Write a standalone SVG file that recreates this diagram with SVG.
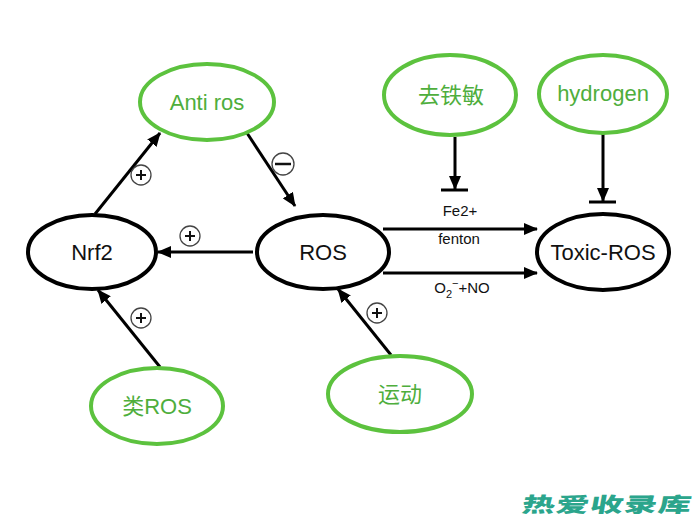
<svg xmlns="http://www.w3.org/2000/svg" width="700" height="525" viewBox="0 0 700 525">
<style>
.gE{fill:none;stroke:#5cc23e;stroke-width:4}
.bE{fill:none;stroke:#000;stroke-width:4}
.gT{fill:#4eae3c;font-family:"Liberation Sans","Noto Sans CJK SC",sans-serif;font-size:22px;text-anchor:middle}
.bT{fill:#111;font-family:"Liberation Sans",sans-serif;font-size:22px;text-anchor:middle}
.ln{stroke:#000;stroke-width:3;fill:none}
.bar{stroke:#000;stroke-width:3}
.sg{fill:#fff;stroke:#444;stroke-width:1.3}
.sgl{stroke:#111;stroke-width:2}
.lb{fill:#111;font-family:"Liberation Sans",sans-serif;font-size:15px;text-anchor:middle}
</style>
<defs>
<marker id="ah" markerWidth="14" markerHeight="12" refX="13" refY="6" orient="auto" markerUnits="userSpaceOnUse">
<path d="M0,0 L14,6 L0,12 Z" fill="#000"/>
</marker>
</defs>
<rect width="700" height="525" fill="#fff"/>
<g id="connectors">
<line class="ln" x1="95" y1="214" x2="160" y2="133" marker-end="url(#ah)"/>
<line class="ln" x1="247" y1="133" x2="295" y2="206" marker-end="url(#ah)"/>
<line class="ln" x1="253" y1="252" x2="158" y2="252" marker-end="url(#ah)"/>
<line class="ln" x1="160" y1="367" x2="98" y2="290" marker-end="url(#ah)"/>
<line class="ln" x1="391" y1="355" x2="338" y2="289" marker-end="url(#ah)"/>
<line class="ln" x1="455" y1="137" x2="455" y2="189" marker-end="url(#ah)"/>
<line class="bar" x1="441" y1="190" x2="468" y2="190"/>
<line class="ln" x1="603" y1="134" x2="603" y2="201" marker-end="url(#ah)"/>
<line class="bar" x1="589" y1="202" x2="616" y2="202"/>
<line class="ln" x1="383" y1="229" x2="537" y2="229" marker-end="url(#ah)"/>
<line class="ln" x1="383" y1="273" x2="537" y2="273" marker-end="url(#ah)"/>
<g id="sign-plus-1"><circle class="sg" cx="141" cy="175" r="10"/><line class="sgl" x1="136" y1="175" x2="146" y2="175"/><line class="sgl" x1="141" y1="170" x2="141" y2="180"/></g>
<g id="sign-minus"><circle class="sg" cx="283" cy="164" r="11"/><line class="sgl" x1="275" y1="164" x2="291" y2="164" style="stroke-width:2.5"/></g>
<g id="sign-plus-2"><circle class="sg" cx="190" cy="236" r="10"/><line class="sgl" x1="185" y1="236" x2="195" y2="236"/><line class="sgl" x1="190" y1="231" x2="190" y2="241"/></g>
<g id="sign-plus-3"><circle class="sg" cx="141" cy="318" r="10"/><line class="sgl" x1="136" y1="318" x2="146" y2="318"/><line class="sgl" x1="141" y1="313" x2="141" y2="323"/></g>
<g id="sign-plus-4"><circle class="sg" cx="377" cy="313" r="10"/><line class="sgl" x1="372" y1="313" x2="382" y2="313"/><line class="sgl" x1="377" y1="308" x2="377" y2="318"/></g>
<text class="lb" x="460" y="216">Fe2+</text>
<text class="lb" x="459" y="244">fenton</text>
<text class="lb" x="462" y="293">O<tspan font-size="11" dy="5">2</tspan><tspan font-size="11" dy="-11">−</tspan><tspan dy="6">+NO</tspan></text>
</g>
<g id="node-antiros"><ellipse class="gE" cx="207" cy="102" rx="67" ry="38"/><text class="gT" x="207" y="110">Anti ros</text></g>
<g id="node-qutiemin"><ellipse class="gE" cx="450" cy="95" rx="66" ry="40"/><text class="gT" x="451" y="103">去铁敏</text></g>
<g id="node-hydrogen"><ellipse class="gE" cx="603" cy="94" rx="64" ry="39"/><text class="gT" x="603" y="101">hydrogen</text></g>
<g id="node-nrf2"><ellipse class="bE" cx="92" cy="252" rx="64" ry="37"/><text class="bT" x="92" y="260">Nrf2</text></g>
<g id="node-ros"><ellipse class="bE" cx="323" cy="252" rx="66" ry="37"/><text class="bT" x="323" y="260">ROS</text></g>
<g id="node-toxicros"><ellipse class="bE" cx="603" cy="252" rx="66" ry="38"/><text class="bT" x="603" y="260">Toxic-ROS</text></g>
<g id="node-leiros"><ellipse class="gE" cx="157" cy="406" rx="66" ry="38"/><text class="gT" x="157" y="414">类ROS</text></g>
<g id="node-yundong"><ellipse class="gE" cx="400" cy="394" rx="72" ry="38"/><text class="gT" x="400" y="402">运动</text></g>
<text transform="translate(606,512) skewX(-10) scale(1,0.62)" fill="#2ba58c" font-family="'Noto Sans CJK SC',sans-serif" font-size="33" font-weight="900" text-anchor="middle" letter-spacing="1">热爱收录库</text>
</svg>
